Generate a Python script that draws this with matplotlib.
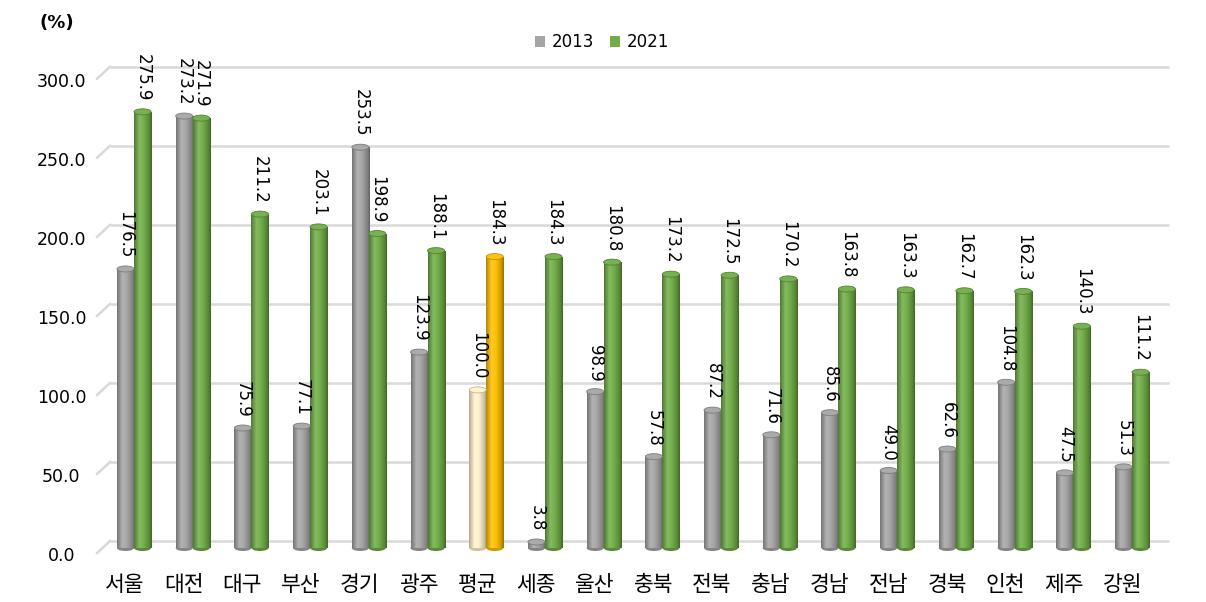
import matplotlib
matplotlib.use('Agg')
import matplotlib.pyplot as plt
import matplotlib.transforms as mtransforms
from matplotlib.colors import LinearSegmentedColormap, to_rgb
from matplotlib.patches import Ellipse, Patch
import numpy as np

plt.rcParams['font.family'] = ['DejaVu Sans']
KR = ['Noto Sans CJK KR', 'DejaVu Sans']

# data
regions = ['서울', '대전', '대구', '부산', '경기', '광주', '평균', '세종', '울산',
           '충북', '전북', '충남', '경남', '전남', '경북', '인천', '제주', '강원']
val_2013 = [176.5, 273.2, 75.9, 77.1, 253.5, 123.9, 100.0, 3.8, 98.9,
            57.8, 87.2, 71.6, 85.6, 49.0, 62.6, 104.8, 47.5, 51.3]
val_2021 = [275.9, 271.9, 211.2, 203.1, 198.9, 188.1, 184.3, 184.3, 180.8,
            173.2, 172.5, 170.2, 163.8, 163.3, 162.7, 162.3, 140.3, 111.2]
yticks = [0, 50, 100, 150, 200, 250, 300]

GRAY = '#A5A5A5'
GREEN = '#70AD47'
CREAM = '#FFF2CC'
GOLD = '#FFC000'
GRID = '#D9D9D9'


def shade(color, f):
    c = np.array(to_rgb(color))
    if f >= 0:
        return tuple(c + (1 - c) * f)
    return tuple(c * (1 + f))


def cylinder_cmap(color):
    stops = [(0.0, shade(color, -0.3)), (0.3, shade(color, 0.15)),
             (0.55, shade(color, 0.02)), (0.85, shade(color, -0.2)),
             (1.0, shade(color, -0.4))]
    return LinearSegmentedColormap.from_list('cyl', stops)


def draw_cylinders(ax, xs, vals, width, colors):
    bars = ax.bar(xs, vals, width, color='none', edgecolor='none', zorder=3)
    grad = np.linspace(0, 1, 64).reshape(1, -1)
    cap_h = 3.8
    for rect, col in zip(bars, colors):
        x0, w, h = rect.get_x(), rect.get_width(), rect.get_height()
        im = ax.imshow(grad, cmap=cylinder_cmap(col), aspect='auto',
                       extent=(x0, x0 + w, 0, h), zorder=3,
                       interpolation='bilinear')
        im.set_clip_path(rect)
        ax.add_patch(Ellipse((x0 + w / 2, 0), w, cap_h, facecolor=shade(col, -0.2),
                             edgecolor='none', zorder=2.9, clip_on=False))
        ax.add_patch(Ellipse((x0 + w / 2, h), w, cap_h, facecolor=shade(col, 0.05),
                             edgecolor=shade(col, -0.25), linewidth=0.6, zorder=4,
                             clip_on=False))
    return bars


fig = plt.figure(figsize=(12.06, 6.02), dpi=100)
# axes: bars' floor at y=548 px, 1.581 px per unit
ax = fig.add_axes([110 / 1206, (602 - 548) / 602, 1059 / 1206, 474.3 / 602])

x = np.arange(len(regions))
off = 0.145
bw = 0.29

c13 = [CREAM if r == '평균' else GRAY for r in regions]
c21 = [GOLD if r == '평균' else GREEN for r in regions]
draw_cylinders(ax, x - off, val_2013, bw, c13)
draw_cylinders(ax, x + off, val_2021, bw, c21)

ax.set_xlim(-0.409, 17.63)
ax.set_ylim(0, 300)

# back-wall gridlines (sit a little above the floor) with a perspective step
back = 4.4
x_left = ax.get_xlim()[0]
for yv in yticks:
    ax.plot([x_left, ax.get_xlim()[1]], [yv + back, yv + back], color=GRID,
            linewidth=1.8, zorder=1, clip_on=False, solid_capstyle='butt')
    ax.plot([x_left - 0.22, x_left], [yv - 3.2, yv + back], color=GRID,
            linewidth=1.8, zorder=1, clip_on=False)

# data labels, rotated
for xi, v in zip(x - off, val_2013):
    ax.text(xi, v + 6.5, f'{v:.1f}', rotation=270, ha='center', va='bottom',
            fontsize=12, zorder=5, clip_on=False)
for xi, v in zip(x + off, val_2021):
    ax.text(xi, v + 6.5, f'{v:.1f}', rotation=270, ha='center', va='bottom',
            fontsize=12, zorder=5, clip_on=False)

ax.set_yticks(yticks)
ax.set_yticklabels([f'{t:.1f}' for t in yticks], fontsize=12.5)
ax.tick_params(axis='y', length=0, pad=35)
yshift = mtransforms.ScaledTranslation(0, -6 / 100, fig.dpi_scale_trans)
for lab in ax.get_yticklabels():
    lab.set_horizontalalignment('center')
    lab.set_transform(lab.get_transform() + yshift)

ax.set_xticks(x)
ax.set_xticklabels(regions, fontsize=15.5, family=KR)
ax.tick_params(axis='x', length=0, pad=19)
xshift = mtransforms.ScaledTranslation(-9 / 100, 0, fig.dpi_scale_trans)
for lab in ax.get_xticklabels():
    lab.set_transform(lab.get_transform() + xshift)

for s in ax.spines.values():
    s.set_visible(False)

fig.text(57 / 1206, 1 - 23 / 602, '(%)', fontsize=13, fontweight='bold',
         ha='center', va='center')

handles = [Patch(facecolor=GRAY, label='2013'), Patch(facecolor=GREEN, label='2021')]
fig.legend(handles=handles, loc='center', bbox_to_anchor=(602 / 1206, 1 - 42 / 602),
           ncol=2, frameon=False, fontsize=12, handlelength=0.65, handleheight=0.65,
           handletextpad=0.4, columnspacing=0.9)

fig.savefig('out.png', dpi=100)
